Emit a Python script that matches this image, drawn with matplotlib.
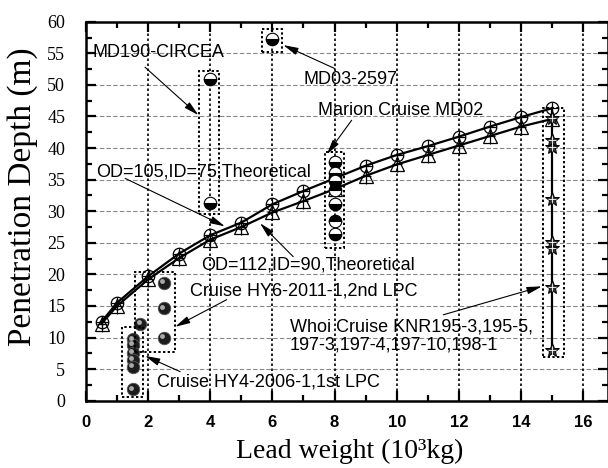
import numpy as np
import matplotlib
matplotlib.use("Agg")
import matplotlib.pyplot as plt
from matplotlib.patches import Rectangle
from matplotlib import transforms

# theoretical curves
w_theo = [0.5, 1, 2, 3, 4, 5, 6, 7, 8, 9, 10, 11, 12, 13, 14, 15]
d_od105 = [12.5, 15.5, 19.7, 23.3, 26.2, 28.2, 31.1, 33.2, 35.2, 37.2, 38.9, 40.3, 41.8, 43.4, 44.9, 46.3]
d_od112 = [12.2, 15.0, 19.2, 22.6, 25.5, 27.5, 29.8, 31.6, 33.5, 35.6, 37.4, 38.9, 40.4, 41.9, 43.4, 44.6]

# field data
hy4_w = [1.5, 1.5, 1.5, 1.5, 1.5, 1.5]
hy4_d = [9.7, 8.8, 7.6, 6.5, 5.4, 1.8]
hy6_w = [1.75, 2.5, 2.5, 2.5]
hy6_d = [12.2, 18.6, 14.6, 9.9]
md190_w = [4, 4]
md190_d = [50.9, 31.3]
md03_w = [6]
md03_d = [57.3]
marion_w = [8, 8, 8, 8, 8, 8, 8]
marion_d = [37.8, 36.1, 34.8, 33.3, 31.2, 28.5, 26.4]
whoi_w = [15, 15, 15, 15, 15, 15, 15, 15]
whoi_d = [8.0, 18.0, 24.1, 25.2, 32.0, 40.2, 41.3, 44.7]

serif = "Liberation Serif"
sans = "Liberation Sans"

fig = plt.figure(figsize=(6.08, 4.68), dpi=100)
ax = fig.add_axes([0.1414, 0.1438, 0.8586, 0.8098])
ax.set_xlim(0, 16.8)
ax.set_ylim(0, 60)

# grid
for yy in range(5, 60, 5):
    ax.axhline(yy, color="#888888", lw=0.8, ls=(0, (4, 2)), zorder=0)
for xx in range(2, 17, 2):
    ax.axvline(xx, color="black", lw=1.2, ls=(0, (1.5, 1.5)), zorder=0)

# theoretical
ax.plot(w_theo, d_od105, "-", color="black", lw=1.6, zorder=3)
ax.plot(w_theo, d_od112, "-", color="black", lw=1.6, zorder=3)
ax.plot(w_theo, d_od105, "o", ms=9, mfc="none", mec="black", mew=0.9, zorder=4)
ax.plot(w_theo, d_od105, "+", ms=9, mec="black", mew=0.9, zorder=4)
ax.plot(w_theo, d_od112, "^", ms=10, mfc="none", mec="black", mew=0.9, zorder=4)
ax.plot(w_theo, d_od112, "|", ms=12, mec="black", mew=0.9, zorder=4)
ax.plot(w_theo, d_od112, "_", ms=7, mec="black", mew=0.9, zorder=4)

# spheres
hl = transforms.offset_copy(ax.transData, fig=fig, x=-1.3, y=1.3, units="points")
for ws, ds in [(hy4_w, hy4_d), (hy6_w, hy6_d)]:
    ax.plot(ws, ds, "o", ms=9, mfc="#1c1c1c", mec="#555555", mew=0.6, ls="none", zorder=5)
    ax.plot(ws, ds, "o", ms=3.5, mfc="#b8b8b8", mec="none", ls="none", zorder=6, transform=hl, alpha=0.9)

# half-filled circles
for ws, ds in [(md190_w, md190_d), (md03_w, md03_d)]:
    ax.plot(ws, ds, "o", ms=9, fillstyle="bottom", mfc="black", markerfacecoloralt="white",
            mec="black", mew=0.8, ls="none", zorder=5)
marion_fill = ["bottom", "bottom", "bottom", "top", "bottom", "top", "bottom"]
for wv, dv, fs in zip(marion_w, marion_d, marion_fill):
    ax.plot([wv], [dv], "o", ms=9, fillstyle=fs, mfc="black", markerfacecoloralt="white",
            mec="black", mew=0.8, zorder=5)

# whoi stars
ax.plot(whoi_w + [15], whoi_d + [d_od105[-1]], "-", color="black", lw=1.6, zorder=3)
ax.plot(whoi_w, whoi_d, "*", ms=10.5, mfc="#333333", mec="black", mew=0.7, ls="none", zorder=5)
ax.plot(whoi_w, whoi_d, "+", ms=6, mec="white", mew=0.6, ls="none", zorder=6)

# dotted boxes
boxes = [(1.15, 0.6, 0.67, 11.0), (1.58, 7.75, 1.29, 12.65), (3.65, 29.6, 0.64, 22.6),
         (5.66, 55.2, 0.64, 3.7), (7.70, 24.2, 0.62, 15.2), (14.7, 6.9, 0.67, 39.4)]
for x0, y0, bw, bh in boxes:
    ax.add_patch(Rectangle((x0, y0), bw, bh, fill=False, ec="black", lw=1.4,
                           ls=(0, (1.2, 1.2)), zorder=6))

# annotations
tk = dict(fontsize=13, family=sans, color="black", va="center", ha="left", zorder=7)
ap = dict(arrowstyle="-|>,head_length=0.9,head_width=0.22", color="black", lw=0.8,
          shrinkA=0, shrinkB=0)
notes = [
    ("MD190-CIRCEA", (0.22, 55.2), (1.9, 52.8), (3.62, 45.2)),
    ("MD03-2597", (6.99, 50.8), (8.0, 52.6), (6.35, 56.3)),
    ("Marion Cruise MD02", (7.47, 46.0), (8.55, 44.4), (7.75, 39.0)),
    ("OD=105,ID=75,Theoretical", (0.32, 36.25), (1.26, 35.2), (4.47, 27.6)),
    ("OD=112,ID=90,Theoretical", (3.72, 21.5), (6.67, 22.8), (5.6, 28.1)),
    ("Cruise HY6-2011-1,2nd LPC", (3.35, 17.4), (4.53, 16.0), (2.87, 11.7)),
    ("Whoi Cruise KNR195-3,195-5,\n197-3,197-4,197-10,198-1", (6.57, 10.2), (11.5, 13.6), (14.67, 18.1)),
    ("Cruise HY4-2006-1,1st LPC", (2.30, 3.0), (3.03, 4.6), (1.9, 7.1)),
]
for txt, pos, a0, a1 in notes:
    ax.text(pos[0], pos[1], txt, linespacing=1.1, **tk)
    ax.annotate("", xy=a1, xytext=a0, arrowprops=ap, zorder=7)

# axes styling
for s in ax.spines.values():
    s.set_linewidth(1.8)
ax.set_xticks(range(0, 17, 2))
ax.set_xticks(range(1, 17, 2), minor=True)
ax.set_yticks(range(0, 61, 5))
ax.set_yticks(np.arange(2.5, 60, 5), minor=True)
ax.tick_params(which="both", direction="in", top=True, right=True, width=1.6)
ax.tick_params(which="major", length=7)
ax.tick_params(which="minor", length=4)
ax.tick_params(axis="x", pad=10)
ax.tick_params(axis="y", pad=15)
for lb in ax.get_xticklabels():
    lb.set_fontfamily(sans)
    lb.set_fontweight("bold")
    lb.set_fontsize(12)
for lb in ax.get_yticklabels():
    lb.set_fontfamily(serif)
    lb.set_fontsize(13)

fig.text(22.5 / 608, 1 - 197 / 468, "Penetration Depth (m)", rotation=90, ha="center", va="center",
         fontsize=24, family=serif)
fig.text(350 / 608, 1 - 451 / 468, "Lead weight (10³kg)", ha="center", va="center",
         fontsize=20, family=serif)

fig.savefig("out.png", dpi=100)
